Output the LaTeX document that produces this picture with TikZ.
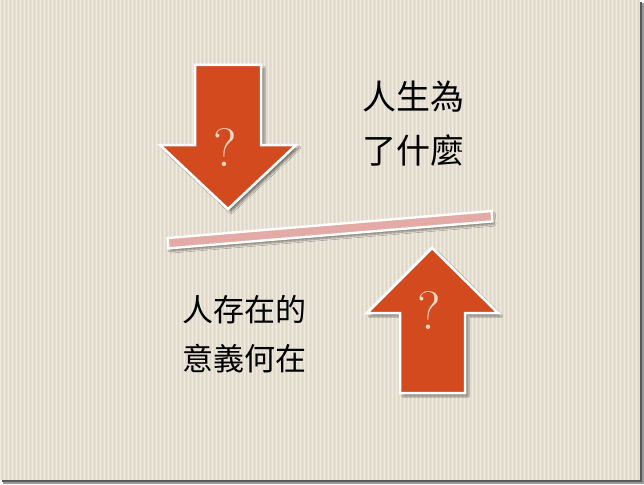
\documentclass[tikz,border=0pt]{standalone}
\usepackage{fontspec}
\newfontfamily\cjk{Noto Sans CJK TC}
\usetikzlibrary{shadows.blur}
\definecolor{bg}{RGB}{230,223,208}
\definecolor{bglight}{RGB}{239,235,225}
\definecolor{bgdark}{RGB}{223,215,199}
\definecolor{arrowred}{RGB}{211,74,30}
\definecolor{barpink}{RGB}{228,170,166}
\definecolor{qcol}{RGB}{247,216,196}
\tikzset{
  arrowshape/.style={fill=arrowred, draw=white, line width=2.5pt, line join=miter,
    blur shadow={shadow xshift=3pt, shadow yshift=-3pt, shadow blur steps=6, shadow opacity=45}},
  barshape/.style={fill=barpink, draw=white, line width=2.4pt,
    blur shadow={shadow xshift=2pt, shadow yshift=-3pt, shadow blur steps=5, shadow opacity=40}},
  qmark/.style={text=qcol, font=\fontsize{54}{54}\selectfont, inner sep=0pt},
  bigtext/.style={font=\cjk\fontsize{34}{54}\selectfont, align=center, inner sep=0pt, text=black},
  smalltext/.style={font=\cjk\fontsize{31}{49}\selectfont, align=center, inner sep=0pt, text=black}
}
\begin{document}
\begin{tikzpicture}[x=1pt,y=-1pt]
\useasboundingbox (0,0) rectangle (644,484);
% slide shadow
\fill[black!40] (3,3) rectangle (644,484);
\fill[black!65] (2,2) rectangle (642,482);
% slide background with stripes
\fill[bg] (0,0) rectangle (640,480);
\foreach \i in {0,...,159}{
  \draw[bglight, line width=1.1pt] ({4*\i+0.6},0) -- ({4*\i+0.6},480);
  \draw[bgdark, line width=0.7pt] ({4*\i+2.6},0) -- ({4*\i+2.6},480);
}
% down arrow
\draw[arrowshape] (195,65) -- (261,65) -- (261,145) -- (296,145) -- (228,209)
  -- (160,145) -- (195,145) -- cycle;
\node[qmark] (q1) at (225,148) {?};
% up arrow
\draw[arrowshape] (432,248) -- (498,313) -- (465,313) -- (465,393) -- (400,393)
  -- (400,313) -- (367,313) -- cycle;
\node[qmark] (q2) at (429,311) {?};
% bar
\draw[barshape] (167.6,238.0) -- (491.6,211.0) -- (492.4,221.4) -- (168.4,248.4) -- cycle;
% texts
\node[bigtext] (t1) at (413,124) {人生為\\了什麼};
\node[smalltext] (t2) at (244,334) {人存在的\\意義何在};
\end{tikzpicture}
\end{document}
